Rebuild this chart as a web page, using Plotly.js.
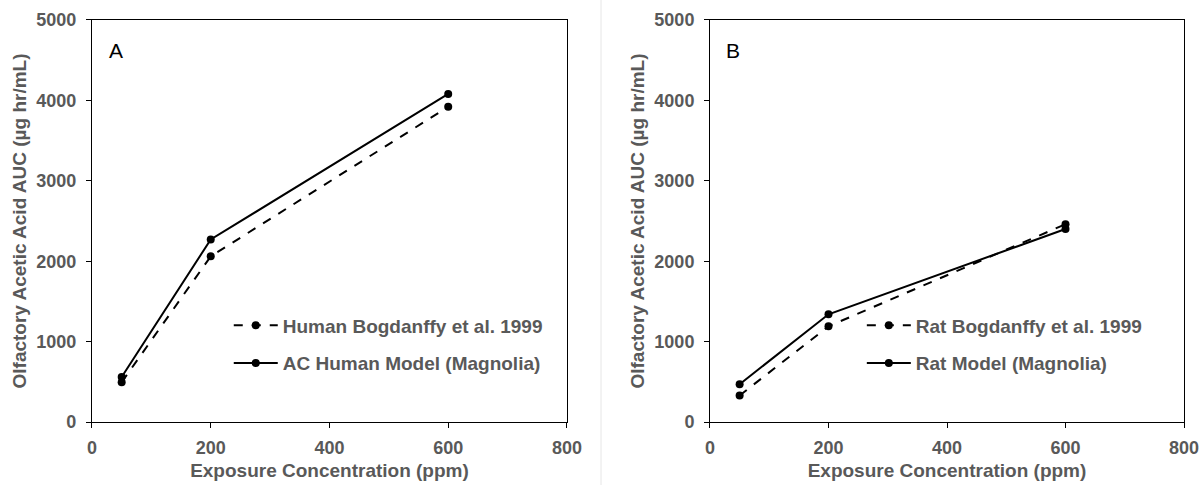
<!DOCTYPE html>
<html><head><meta charset="utf-8">
<script src="https://cdn.plot.ly/plotly-3.0.1.min.js"></script>
<style>html,body{margin:0;padding:0;background:#fff}#chart{width:1204px;height:485px}</style>
</head><body><div id="chart"></div>
<script>
const conc = [50, 200, 600];
const humanBogdanffy = [495, 2060, 3920];
const humanModel = [560, 2270, 4080];
const ratBogdanffy = [330, 1190, 2460];
const ratModel = [470, 1340, 2400];
const xTicks = [0, 200, 400, 600, 800];
const yTicks = [0, 1000, 2000, 3000, 4000, 5000];

const gray = '#595959';
const fam = 'Liberation Sans, Arial, sans-serif';
function tr(y, name, dash, xa, ya, leg, grp) {
  return {x: conc, y: y, name: name, type: 'scatter', mode: 'lines+markers',
    line: {color: '#000', width: 2, dash: dash}, marker: {color: '#000', size: 8},
    xaxis: xa, yaxis: ya, legend: leg, legendgroup: grp};
}
const data = [
  tr(humanBogdanffy, 'Human Bogdanffy et al. 1999', 'dash', 'x', 'y', 'legend', 'a1'),
  tr(humanModel, 'AC Human Model (Magnolia)', 'solid', 'x', 'y', 'legend', 'a2'),
  tr(ratBogdanffy, 'Rat Bogdanffy et al. 1999', 'dash', 'x2', 'y2', 'legend2', 'b1'),
  tr(ratModel, 'Rat Model (Magnolia)', 'solid', 'x2', 'y2', 'legend2', 'b2')
];
function xax(dom, anchor) {
  return {domain: dom, anchor: anchor, range: [0, 800], tickvals: xTicks, ticktext: xTicks.map(String),
    showline: true, linecolor: '#000', linewidth: 1, mirror: true, ticks: 'outside', ticklen: 5, tickcolor: '#000',
    showgrid: false, zeroline: false, automargin: false, ticklabelstandoff: 4,
    tickfont: {family: fam, size: 18, color: gray, weight: 'bold'},
    title: {text: 'Exposure Concentration (ppm)', standoff: 7, font: {family: fam, size: 19, color: gray, weight: 'bold'}}};
}
function yax(anchor) {
  return {domain: [0.1299, 0.9588], anchor: anchor, range: [0, 5000], tickvals: yTicks, ticktext: yTicks.map(String),
    showline: true, linecolor: '#000', linewidth: 1, mirror: true, ticks: 'outside', ticklen: 5, tickcolor: '#000',
    showgrid: false, zeroline: false, automargin: false, ticklabelstandoff: 6,
    tickfont: {family: fam, size: 18, color: gray, weight: 'bold'},
    title: {text: 'Olfactory Acetic Acid AUC (µg hr/mL)', standoff: 4, font: {family: fam, size: 19, color: gray, weight: 'bold'}}};
}
const legBase = {bgcolor: 'rgba(0,0,0,0)', borderwidth: 0, traceorder: 'grouped', tracegroupgap: 10,
  itemwidth: 44, font: {family: fam, size: 19, color: gray, weight: 'bold'}, xanchor: 'left', yanchor: 'top'};
const layout = {
  width: 1204, height: 485, margin: {l: 0, r: 0, t: 0, b: 0},
  paper_bgcolor: '#fff', plot_bgcolor: '#fff', showlegend: true,
  xaxis: xax([0.0764, 0.4709], 'y'), yaxis: yax('x'),
  xaxis2: xax([0.5897, 0.9834], 'y2'), yaxis2: yax('x2'),
  legend: Object.assign({}, legBase, {x: 0.19, y: 0.368}),
  legend2: Object.assign({}, legBase, {x: 0.7158, y: 0.368}),
  annotations: [
    {text: 'A', xref: 'paper', yref: 'paper', x: 0.0963, y: 0.896, showarrow: false, xanchor: 'center', yanchor: 'middle', font: {family: fam, size: 21, color: '#000'}},
    {text: 'B', xref: 'paper', yref: 'paper', x: 0.6088, y: 0.896, showarrow: false, xanchor: 'center', yanchor: 'middle', font: {family: fam, size: 21, color: '#000'}}
  ],
  shapes: [
    {type: 'line', xref: 'paper', yref: 'paper', x0: 0.4992, x1: 0.4992, y0: 0, y1: 1, line: {color: '#e6e6e6', width: 1}}
  ]
};
Plotly.newPlot('chart', data, layout, {staticPlot: true, displayModeBar: false});
</script></body></html>
